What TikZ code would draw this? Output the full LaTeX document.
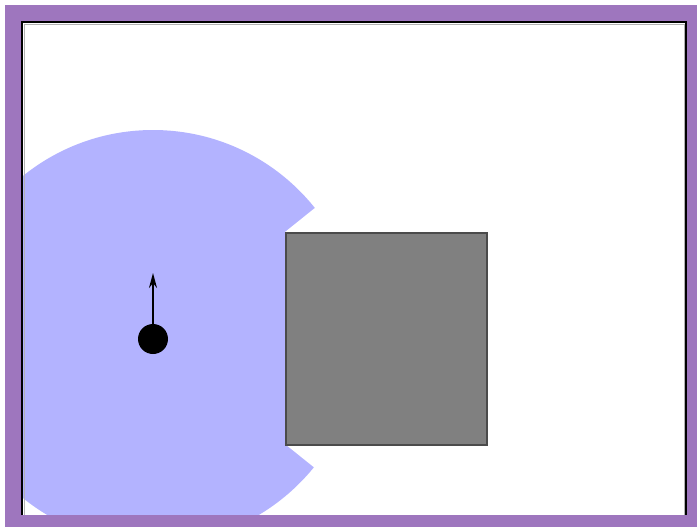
\documentclass[tikz,border=0pt]{standalone}
\usetikzlibrary{arrows.meta}
\definecolor{framepurple}{RGB}{158,118,190}
\definecolor{rangeblue}{RGB}{179,179,255}
\definecolor{boxgray}{RGB}{128,128,128}
\definecolor{boxedge}{RGB}{75,75,75}
\tikzset{
  obstacle/.style={fill=boxgray, draw=boxedge, line width=2pt},
  robotdot/.style={circle, fill=black, minimum size=30pt, inner sep=0pt},
  heading/.style={-{Stealth[length=15pt,width=8pt]}, line width=2pt, black},
}
\begin{document}
\begin{tikzpicture}[x=1pt,y=-1pt]
\useasboundingbox (0,0) rectangle (697,528);
% purple frame
\fill[framepurple] (5,5) rectangle (697,527);
% white window
\fill[white] (22,22) rectangle (686,515);
\begin{scope}
  \clip (22,22) rectangle (686,515);
  \fill[rangeblue] (153,337) circle[radius=207];
  \fill[white] (285,232) -- (681,-86) -- (681,762) -- (285,444) -- cycle;
\end{scope}
% obstacle
\node[obstacle, minimum width=201pt, minimum height=212pt, inner sep=0pt, anchor=north west] (box) at (285,232) {};
% robot
\node[robotdot] (robot) at (153,339) {};
\coordinate (tip) at (153,273);
\draw[heading] (robot.center) -- (tip);
% window border
\draw[gray!60, line width=1pt] (24,516) -- (24,24) -- (684,24) -- (684,516);
\draw[black, line width=2pt] (22,516) -- (22,22) -- (686,22) -- (686,516);
% bottom purple band
\fill[framepurple] (5,515) rectangle (697,527);
\end{tikzpicture}
\end{document}
